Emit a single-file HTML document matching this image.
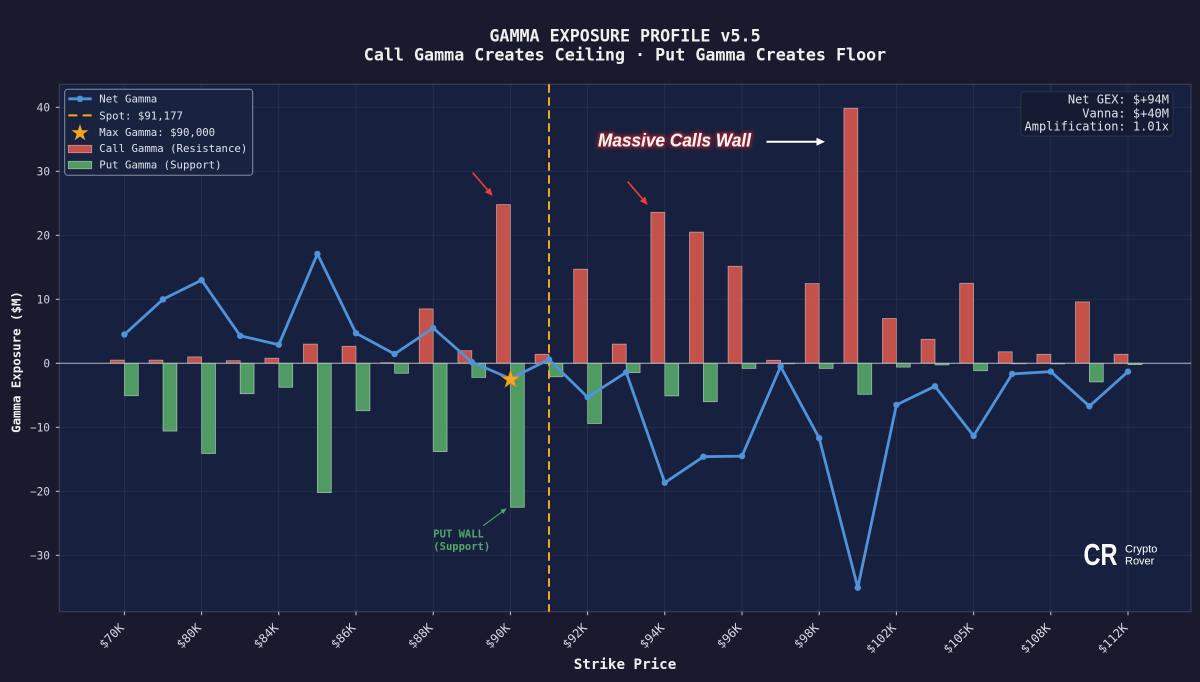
<!DOCTYPE html>
<html>
<head>
<meta charset="utf-8">
<style>
  html, body { margin: 0; padding: 0; background: #1a1a2e; }
  svg { display: block; }
  .mono { font-family: "DejaVu Sans Mono", "Liberation Mono", monospace; }
  .sans { font-family: "Liberation Sans", "DejaVu Sans", sans-serif; }
</style>
</head>
<body>
<svg width="1200" height="682" viewBox="0 0 1200 682" xmlns="http://www.w3.org/2000/svg">
  <defs>
    <filter id="glow" x="-10%" y="-40%" width="120%" height="180%">
      <feMorphology in="SourceAlpha" operator="dilate" radius="1.6" result="d"/>
      <feGaussianBlur in="d" stdDeviation="1.6" result="b"/>
      <feFlood flood-color="#8e1f2c" flood-opacity="0.95"/>
      <feComposite in2="b" operator="in" result="g"/>
      <feMerge><feMergeNode in="g"/><feMergeNode in="SourceGraphic"/></feMerge>
    </filter>
  </defs>
  <!-- figure background -->
  <rect x="0" y="0" width="1200" height="682" fill="#1a1a2e"/>

  <!-- title -->
  <text class="mono" x="625" y="41.7" text-anchor="middle" font-size="16.7" font-weight="bold" fill="#f0f0f0">GAMMA EXPOSURE PROFILE v5.5</text>
  <text class="mono" x="625" y="60.7" text-anchor="middle" font-size="16.7" font-weight="bold" fill="#f0f0f0">Call Gamma Creates Ceiling · Put Gamma Creates Floor</text>

  <!-- axes background -->
  <rect x="59.3" y="84.3" width="1131.7" height="527.4" fill="#17213f"/>

  <!-- bars: calls -->
  <g fill="#c4524a" stroke="rgba(255,235,235,0.55)" stroke-width="0.8">
    <rect x="110.5" y="360.1" width="13.9" height="3.2"/>
    <rect x="149.1" y="360.1" width="13.9" height="3.2"/>
    <rect x="187.7" y="356.9" width="13.9" height="6.4"/>
    <rect x="226.3" y="360.7" width="13.9" height="2.6"/>
    <rect x="264.9" y="358.2" width="13.9" height="5.1"/>
    <rect x="303.5" y="344.1" width="13.9" height="19.2"/>
    <rect x="342.1" y="346.3" width="13.9" height="17.0"/>
    <rect x="380.7" y="362.7" width="13.9" height="0.6"/>
    <rect x="419.3" y="308.9" width="13.9" height="54.4"/>
    <rect x="457.9" y="350.7" width="13.9" height="12.6"/>
    <rect x="496.5" y="204.6" width="13.9" height="158.7"/>
    <rect x="535.1" y="354.3" width="13.9" height="9.0"/>
    <rect x="573.7" y="269.2" width="13.9" height="94.1"/>
    <rect x="612.3" y="344.1" width="13.9" height="19.2"/>
    <rect x="650.9" y="212.3" width="13.9" height="151.0"/>
    <rect x="689.5" y="232.1" width="13.9" height="131.2"/>
    <rect x="728.1" y="266.3" width="13.9" height="97.0"/>
    <rect x="766.7" y="360.3" width="13.9" height="3.0"/>
    <rect x="805.3" y="283.6" width="13.9" height="79.7"/>
    <rect x="843.9" y="108.3" width="13.9" height="255.0"/>
    <rect x="882.5" y="318.5" width="13.9" height="44.8"/>
    <rect x="921.1" y="339.3" width="13.9" height="24.0"/>
    <rect x="959.7" y="283.3" width="13.9" height="80.0"/>
    <rect x="998.3" y="351.8" width="13.9" height="11.5"/>
    <rect x="1036.9" y="354.3" width="13.9" height="9.0"/>
    <rect x="1075.5" y="301.9" width="13.9" height="61.4"/>
    <rect x="1114.1" y="354.3" width="13.9" height="9.0"/>
  </g>
  <!-- bars: puts -->
  <g fill="#4f9b63" stroke="rgba(235,255,240,0.55)" stroke-width="0.8">
    <rect x="124.4" y="363.3" width="13.9" height="32.4"/>
    <rect x="163.0" y="363.3" width="13.9" height="67.8"/>
    <rect x="201.6" y="363.3" width="13.9" height="90.2"/>
    <rect x="240.2" y="363.3" width="13.9" height="30.4"/>
    <rect x="278.8" y="363.3" width="13.9" height="24.0"/>
    <rect x="317.4" y="363.3" width="13.9" height="129.3"/>
    <rect x="356.0" y="363.3" width="13.9" height="47.4"/>
    <rect x="394.6" y="363.3" width="13.9" height="10.0"/>
    <rect x="433.2" y="363.3" width="13.9" height="88.3"/>
    <rect x="471.8" y="363.3" width="13.9" height="14.1"/>
    <rect x="510.4" y="363.3" width="13.9" height="144.0"/>
    <rect x="549.0" y="363.3" width="13.9" height="13.4"/>
    <rect x="587.6" y="363.3" width="13.9" height="60.2"/>
    <rect x="626.2" y="363.3" width="13.9" height="9.3"/>
    <rect x="664.8" y="363.3" width="13.9" height="32.6"/>
    <rect x="703.4" y="363.3" width="13.9" height="38.4"/>
    <rect x="742.0" y="363.3" width="13.9" height="5.1"/>
    <rect x="780.6" y="363.3" width="13.9" height="0.5"/>
    <rect x="819.2" y="363.3" width="13.9" height="5.1"/>
    <rect x="857.8" y="363.3" width="13.9" height="31.0"/>
    <rect x="896.4" y="363.3" width="13.9" height="3.8"/>
    <rect x="935.0" y="363.3" width="13.9" height="1.6"/>
    <rect x="973.6" y="363.3" width="13.9" height="7.4"/>
    <rect x="1012.2" y="363.3" width="13.9" height="0.5"/>
    <rect x="1050.8" y="363.3" width="13.9" height="0.6"/>
    <rect x="1089.4" y="363.3" width="13.9" height="18.6"/>
    <rect x="1128.0" y="363.3" width="13.9" height="1.3"/>
  </g>

  <!-- grid -->
  <g stroke="rgba(128,130,150,0.16)" stroke-width="0.8">
    <line x1="59.3" x2="1191" y1="107.3" y2="107.3"/>
    <line x1="59.3" x2="1191" y1="171.3" y2="171.3"/>
    <line x1="59.3" x2="1191" y1="235.3" y2="235.3"/>
    <line x1="59.3" x2="1191" y1="299.3" y2="299.3"/>
    <line x1="59.3" x2="1191" y1="427.3" y2="427.3"/>
    <line x1="59.3" x2="1191" y1="491.3" y2="491.3"/>
    <line x1="59.3" x2="1191" y1="555.3" y2="555.3"/>
    <line x1="124.4" x2="124.4" y1="84.3" y2="611.7"/>
    <line x1="201.6" x2="201.6" y1="84.3" y2="611.7"/>
    <line x1="278.8" x2="278.8" y1="84.3" y2="611.7"/>
    <line x1="356.0" x2="356.0" y1="84.3" y2="611.7"/>
    <line x1="433.2" x2="433.2" y1="84.3" y2="611.7"/>
    <line x1="510.4" x2="510.4" y1="84.3" y2="611.7"/>
    <line x1="587.6" x2="587.6" y1="84.3" y2="611.7"/>
    <line x1="664.8" x2="664.8" y1="84.3" y2="611.7"/>
    <line x1="742.0" x2="742.0" y1="84.3" y2="611.7"/>
    <line x1="819.2" x2="819.2" y1="84.3" y2="611.7"/>
    <line x1="896.4" x2="896.4" y1="84.3" y2="611.7"/>
    <line x1="973.6" x2="973.6" y1="84.3" y2="611.7"/>
    <line x1="1050.8" x2="1050.8" y1="84.3" y2="611.7"/>
    <line x1="1128.0" x2="1128.0" y1="84.3" y2="611.7"/>
  </g>

  <!-- zero line -->
  <line x1="59.3" x2="1191" y1="363.3" y2="363.3" stroke="#b4b6c0" stroke-width="1"/>

  <!-- spot line -->
  <line x1="549" x2="549" y1="84.3" y2="611.7" stroke="#f5a623" stroke-width="2" stroke-dasharray="8.5,4.5"/>

  <!-- net gamma line -->
  <polyline fill="none" stroke="#4f93db" stroke-width="2.8" stroke-linejoin="round"
    points="124.4,334.5 163.0,299.3 201.6,280.1 240.2,335.8 278.8,344.7 317.4,253.9 356.0,333.2 394.6,354.0 433.2,328.1 471.8,362.0 510.4,378.7 549.0,359.5 587.6,397.2 626.2,372.3 664.8,482.7 703.4,456.7 742.0,456.1 780.6,366.5 819.2,438.2 857.8,587.7 896.4,404.9 935.0,386.3 973.6,435.9 1012.2,373.9 1050.8,371.6 1089.4,406.2 1128.0,371.6"/>
  <g fill="#4f93db">
    <circle cx="124.4" cy="334.5" r="3.2"/>
    <circle cx="163.0" cy="299.3" r="3.2"/>
    <circle cx="201.6" cy="280.1" r="3.2"/>
    <circle cx="240.2" cy="335.8" r="3.2"/>
    <circle cx="278.8" cy="344.7" r="3.2"/>
    <circle cx="317.4" cy="253.9" r="3.2"/>
    <circle cx="356.0" cy="333.2" r="3.2"/>
    <circle cx="394.6" cy="354.0" r="3.2"/>
    <circle cx="433.2" cy="328.1" r="3.2"/>
    <circle cx="471.8" cy="362.0" r="3.2"/>
    <circle cx="549.0" cy="359.5" r="3.2"/>
    <circle cx="587.6" cy="397.2" r="3.2"/>
    <circle cx="626.2" cy="372.3" r="3.2"/>
    <circle cx="664.8" cy="482.7" r="3.2"/>
    <circle cx="703.4" cy="456.7" r="3.2"/>
    <circle cx="742.0" cy="456.1" r="3.2"/>
    <circle cx="780.6" cy="366.5" r="3.2"/>
    <circle cx="819.2" cy="438.2" r="3.2"/>
    <circle cx="857.8" cy="587.7" r="3.2"/>
    <circle cx="896.4" cy="404.9" r="3.2"/>
    <circle cx="935.0" cy="386.3" r="3.2"/>
    <circle cx="973.6" cy="435.9" r="3.2"/>
    <circle cx="1012.2" cy="373.9" r="3.2"/>
    <circle cx="1050.8" cy="371.6" r="3.2"/>
    <circle cx="1089.4" cy="406.2" r="3.2"/>
    <circle cx="1128.0" cy="371.6" r="3.2"/>
  </g>

  <!-- max gamma star -->
  <polygon points="0,-1 0.2245,-0.309 0.951,-0.309 0.363,0.118 0.588,0.809 0,0.382 -0.588,0.809 -0.363,0.118 -0.951,-0.309 -0.2245,-0.309"
    transform="translate(510.6,379.5) scale(9.5)" fill="#f5a623" stroke="#d98c10" stroke-width="0.06"/>

  <!-- spines -->
  <rect x="59.3" y="84.3" width="1131.7" height="527.4" fill="none" stroke="rgba(200,205,220,0.22)" stroke-width="1"/>

  <!-- y ticks -->
  <g stroke="#c8ccd6" stroke-width="1">
    <line x1="55.8" x2="59.3" y1="107.3" y2="107.3"/>
    <line x1="55.8" x2="59.3" y1="171.3" y2="171.3"/>
    <line x1="55.8" x2="59.3" y1="235.3" y2="235.3"/>
    <line x1="55.8" x2="59.3" y1="299.3" y2="299.3"/>
    <line x1="55.8" x2="59.3" y1="363.3" y2="363.3"/>
    <line x1="55.8" x2="59.3" y1="427.3" y2="427.3"/>
    <line x1="55.8" x2="59.3" y1="491.3" y2="491.3"/>
    <line x1="55.8" x2="59.3" y1="555.3" y2="555.3"/>
  </g>
  <g class="mono" font-size="11.1" fill="#d2d5de" text-anchor="end">
    <text x="50" y="111.3">40</text>
    <text x="50" y="175.3">30</text>
    <text x="50" y="239.3">20</text>
    <text x="50" y="303.3">10</text>
    <text x="50" y="367.3">0</text>
    <text x="50" y="431.3">−10</text>
    <text x="50" y="495.3">−20</text>
    <text x="50" y="559.3">−30</text>
  </g>

  <!-- x ticks -->
  <g stroke="#c8ccd6" stroke-width="1">
    <line x1="124.4" x2="124.4" y1="611.7" y2="615.2"/>
    <line x1="201.6" x2="201.6" y1="611.7" y2="615.2"/>
    <line x1="278.8" x2="278.8" y1="611.7" y2="615.2"/>
    <line x1="356.0" x2="356.0" y1="611.7" y2="615.2"/>
    <line x1="433.2" x2="433.2" y1="611.7" y2="615.2"/>
    <line x1="510.4" x2="510.4" y1="611.7" y2="615.2"/>
    <line x1="587.6" x2="587.6" y1="611.7" y2="615.2"/>
    <line x1="664.8" x2="664.8" y1="611.7" y2="615.2"/>
    <line x1="742.0" x2="742.0" y1="611.7" y2="615.2"/>
    <line x1="819.2" x2="819.2" y1="611.7" y2="615.2"/>
    <line x1="896.4" x2="896.4" y1="611.7" y2="615.2"/>
    <line x1="973.6" x2="973.6" y1="611.7" y2="615.2"/>
    <line x1="1050.8" x2="1050.8" y1="611.7" y2="615.2"/>
    <line x1="1128.0" x2="1128.0" y1="611.7" y2="615.2"/>
  </g>
  <g class="mono" font-size="12" fill="#d6d9e2" text-anchor="end">
    <text transform="translate(124.7,628.5) rotate(-45)">$70K</text>
    <text transform="translate(201.9,628.5) rotate(-45)">$80K</text>
    <text transform="translate(279.1,628.5) rotate(-45)">$84K</text>
    <text transform="translate(356.3,628.5) rotate(-45)">$86K</text>
    <text transform="translate(433.5,628.5) rotate(-45)">$88K</text>
    <text transform="translate(510.7,628.5) rotate(-45)">$90K</text>
    <text transform="translate(587.9,628.5) rotate(-45)">$92K</text>
    <text transform="translate(665.1,628.5) rotate(-45)">$94K</text>
    <text transform="translate(742.3,628.5) rotate(-45)">$96K</text>
    <text transform="translate(819.5,628.5) rotate(-45)">$98K</text>
    <text transform="translate(896.7,628.5) rotate(-45)">$102K</text>
    <text transform="translate(973.9,628.5) rotate(-45)">$105K</text>
    <text transform="translate(1051.1,628.5) rotate(-45)">$108K</text>
    <text transform="translate(1128.3,628.5) rotate(-45)">$112K</text>
  </g>

  <!-- axis labels -->
  <text class="mono" x="625" y="669" text-anchor="middle" font-size="14.2" font-weight="bold" fill="#f0f0f0">Strike Price</text>
  <text class="mono" transform="translate(20.5,362) rotate(-90)" text-anchor="middle" font-size="12.4" font-weight="bold" fill="#f0f0f0">Gamma Exposure ($M)</text>

  <!-- legend -->
  <rect x="64.7" y="89.3" width="188" height="86" rx="3" fill="#19223f" stroke="rgba(210,214,225,0.6)" stroke-width="1"/>
  <line x1="68.3" x2="91.7" y1="98.8" y2="98.8" stroke="#4f93db" stroke-width="2.8"/>
  <circle cx="80" cy="98.8" r="3.2" fill="#4f93db"/>
  <line x1="68.3" x2="91.7" y1="115.4" y2="115.4" stroke="#f5a623" stroke-width="2" stroke-dasharray="9,5.4"/>
  <polygon points="0,-1 0.2245,-0.309 0.951,-0.309 0.363,0.118 0.588,0.809 0,0.382 -0.588,0.809 -0.363,0.118 -0.951,-0.309 -0.2245,-0.309"
    transform="translate(80,133) scale(9)" fill="#f5a623"/>
  <rect x="68.3" y="145.3" width="23.4" height="7.4" fill="#c4524a" stroke="rgba(255,235,235,0.55)" stroke-width="0.8"/>
  <rect x="68.3" y="161.3" width="23.4" height="7.4" fill="#4f9b63" stroke="rgba(235,255,240,0.55)" stroke-width="0.8"/>
  <g class="mono" font-size="10.7" fill="#dfe2ea">
    <text x="99.3" y="102.7">Net Gamma</text>
    <text x="99.3" y="119.3">Spot: $91,177</text>
    <text x="99.3" y="135.9">Max Gamma: $90,000</text>
    <text x="99.3" y="152.2">Call Gamma (Resistance)</text>
    <text x="99.3" y="168.5">Put Gamma (Support)</text>
  </g>

  <!-- info box -->
  <rect x="1021" y="91.7" width="152" height="44.3" rx="3" fill="#141b33" stroke="rgba(200,205,220,0.12)" stroke-width="1"/>
  <g class="mono" font-size="12" fill="#e2e4ea" text-anchor="end">
    <text x="1169" y="103.3">Net GEX: $+94M</text>
    <text x="1169" y="117.3">Vanna: $+40M</text>
    <text x="1169" y="130.7">Amplification: 1.01x</text>
  </g>

  <!-- Massive Calls Wall annotation -->
  <text class="sans" x="598" y="146.7" font-size="18.5" font-weight="bold" font-style="italic"
    textLength="153" lengthAdjust="spacingAndGlyphs"
    fill="#fff4f4" filter="url(#glow)">Massive Calls Wall</text>
  <line x1="766.5" x2="818" y1="141.7" y2="141.7" stroke="#ffffff" stroke-width="2"/>
  <polygon points="825,141.7 816.5,137.7 816.5,145.7" fill="#ffffff"/>

  <!-- red arrows -->
  <line x1="472.7" y1="172.7" x2="487.5" y2="189.9" stroke="#e8403a" stroke-width="1.6"/>
  <polygon points="492.7,196 484.8,192.2 490.2,187.6" fill="#e8403a"/>
  <line x1="627.7" y1="181.7" x2="642.5" y2="198.9" stroke="#e8403a" stroke-width="1.6"/>
  <polygon points="647.7,205 639.8,201.2 645.2,196.6" fill="#e8403a"/>

  <!-- put wall annotation -->
  <line x1="483.3" y1="525.7" x2="502.5" y2="511.4" stroke="#4ea96a" stroke-width="1.1"/>
  <polygon points="506.7,508.3 503.4,513.9 500.4,509.9" fill="#4ea96a"/>
  <g class="mono" font-size="10.5" font-weight="bold" fill="#52a86b">
    <text x="433.3" y="537.7">PUT WALL</text>
    <text x="433.3" y="550">(Support)</text>
  </g>

  <!-- logo -->
  <text class="sans" x="1083.5" y="565" font-size="31" font-weight="bold" fill="#ffffff" textLength="34" lengthAdjust="spacingAndGlyphs">CR</text>
  <g class="sans" font-size="11" fill="#ffffff">
    <text x="1125" y="552.5">Crypto</text>
    <text x="1125" y="564.5">Rover</text>
  </g>
</svg>
</body>
</html>
